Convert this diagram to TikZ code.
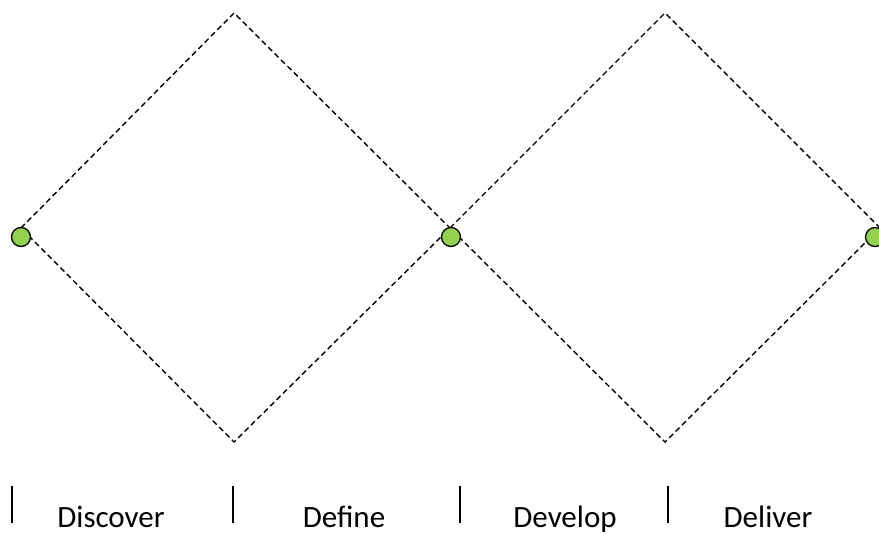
\documentclass[tikz,border=0pt]{standalone}
\usepackage{fontspec}
\setmainfont{Carlito}
\definecolor{phasegreen}{HTML}{92D050}
\begin{document}
\begin{tikzpicture}[x=1bp,y=-1bp,
  dashline/.style={draw=black,line width=1.4bp,dash pattern=on 5.5bp off 3.5bp},
  dot/.style={circle,draw=black,fill=phasegreen,line width=1.3bp,minimum size=19bp,inner sep=0pt},
  tick/.style={draw=black,line width=1.3bp},
  phase/.style={anchor=base,font=\fontsize{31bp}{36bp}\selectfont,inner sep=0pt}]
\useasboundingbox (0,0) rectangle (879,535);
% diamond corners
\coordinate (L)  at (21,228);
\coordinate (T1) at (234,13);
\coordinate (M)  at (450,228);
\coordinate (B1) at (234,442);
\coordinate (T2) at (665,13);
\coordinate (R)  at (880,228);
\coordinate (B2) at (665,442);
% the two diamonds
\draw[dashline] (L) -- (T1) -- (M) -- (B1) -- cycle;
\draw[dashline] (M) -- (T2) -- (R) -- (B2) -- cycle;
% milestone dots
\node[dot] (d1) at (21,237) {};
\node[dot] (d2) at (451,237) {};
\node[dot] (d3) at (875,237) {};
% phase separators
\coordinate (s1a) at (12,486);  \coordinate (s1b) at (12,523);
\coordinate (s2a) at (233,486); \coordinate (s2b) at (233,523);
\coordinate (s3a) at (460,486); \coordinate (s3b) at (460,523);
\coordinate (s4a) at (668,486); \coordinate (s4b) at (668,523);
\draw[tick] (s1a) -- (s1b);
\draw[tick] (s2a) -- (s2b);
\draw[tick] (s3a) -- (s3b);
\draw[tick] (s4a) -- (s4b);
% phase labels
\node[phase] (p1) at (111,527) {Discover};
\node[phase] (p2) at (344,527) {Define};
\node[phase] (p3) at (565,527) {Develop};
\node[phase] (p4) at (768,527) {Deliver};
\end{tikzpicture}
\end{document}
